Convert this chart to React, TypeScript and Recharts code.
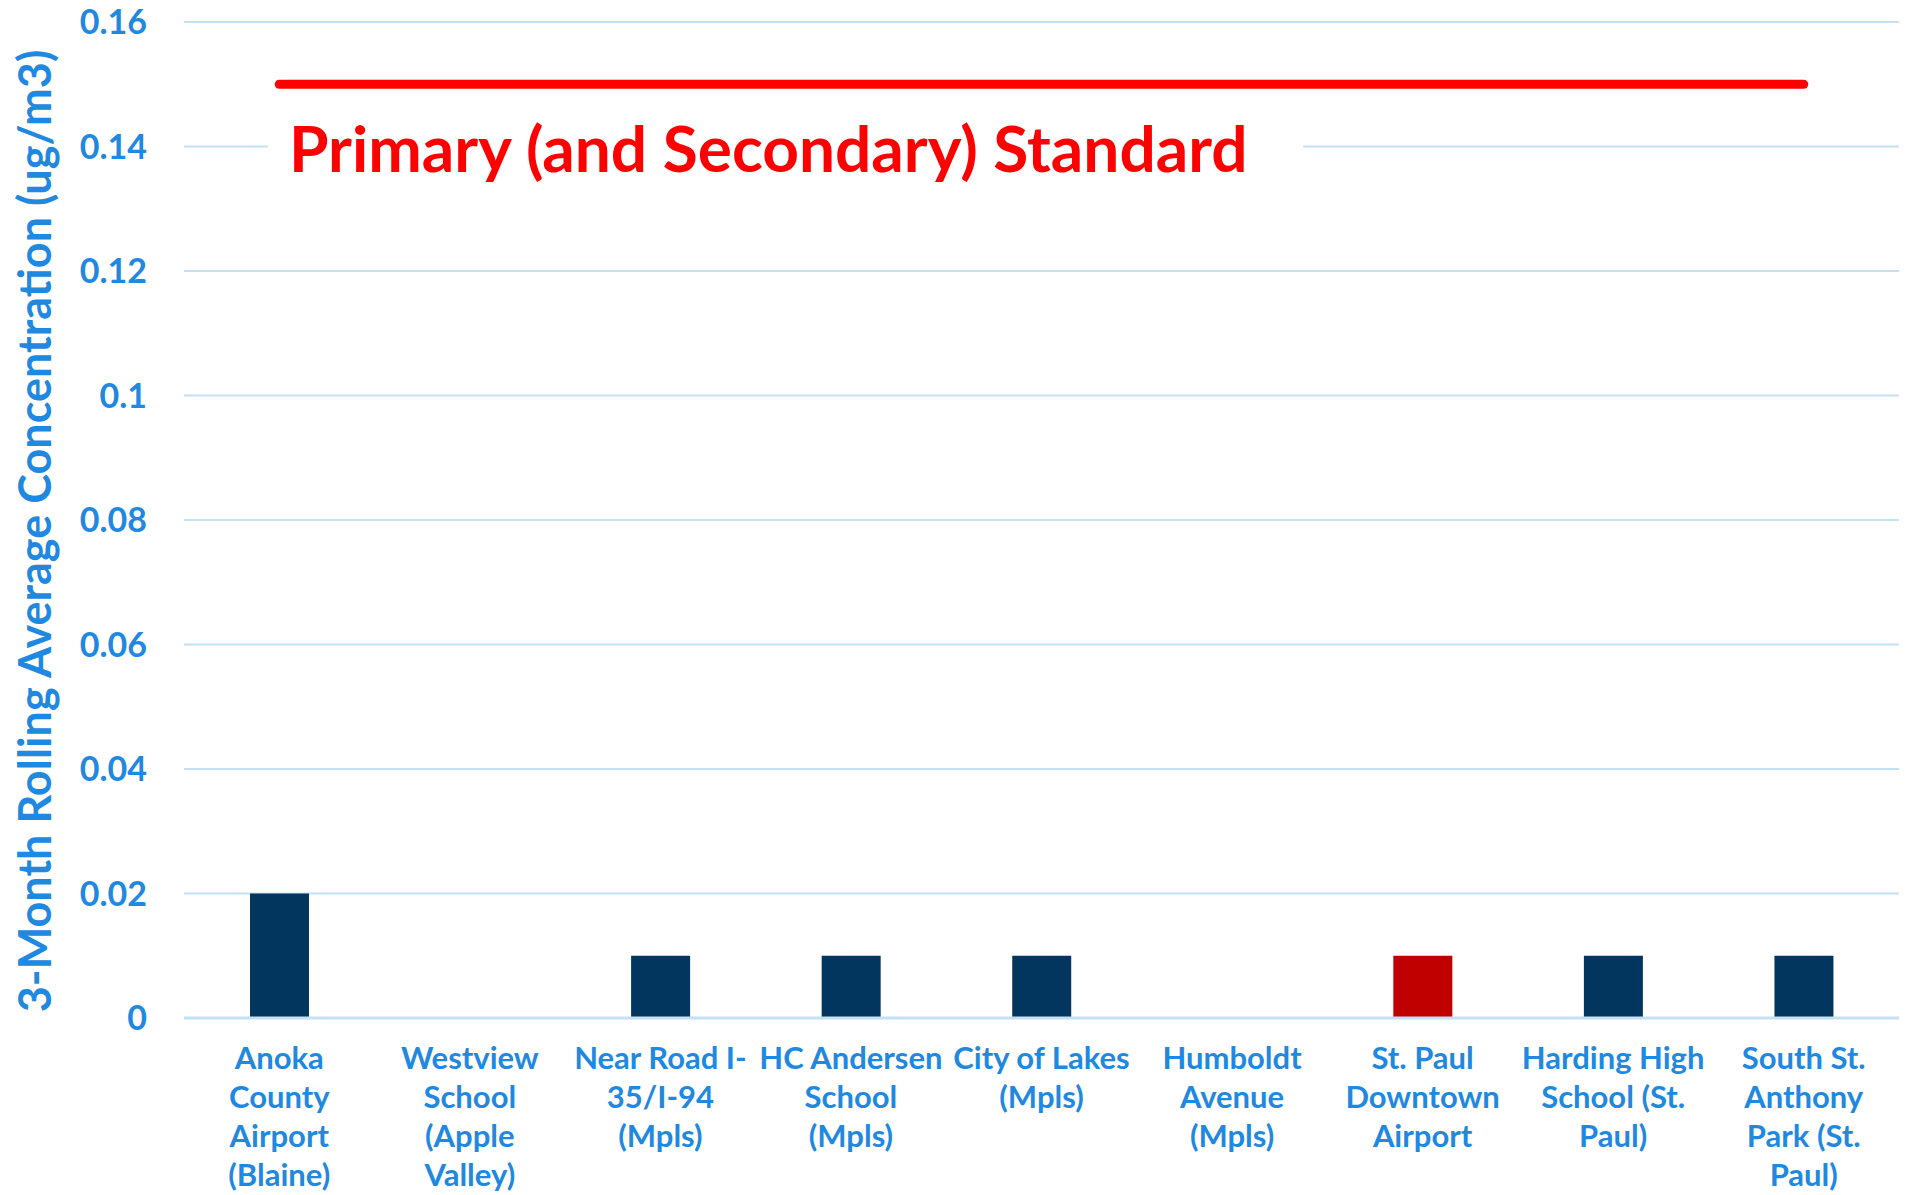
import {
  ComposedChart,
  Bar,
  Line,
  Cell,
  XAxis,
  YAxis,
  CartesianGrid,
  ReferenceLine,
} from "recharts";

const siteLines = [
  ["Anoka", "County", "Airport", "(Blaine)"],
  ["Westview", "School", "(Apple", "Valley)"],
  ["Near Road I-", "35/I-94", "(Mpls)"],
  ["HC Andersen", "School", "(Mpls)"],
  ["City of Lakes", "(Mpls)"],
  ["Humboldt", "Avenue", "(Mpls)"],
  ["St. Paul", "Downtown", "Airport"],
  ["Harding High", "School (St.", "Paul)"],
  ["South St.", "Anthony", "Park (St.", "Paul)"],
];
const sites = siteLines.map((l) => l.join(" "));
const concentration = [0.02, 0, 0.01, 0.01, 0.01, 0, 0.01, 0.01, 0.01];
const highlightSite = "St. Paul Downtown Airport";
const standardValue = 0.15;
const standardLabel = "Primary (and Secondary) Standard";
const yTicks = [0, 0.02, 0.04, 0.06, 0.08, 0.1, 0.12, 0.14, 0.16];
const yLabel = "3-Month Rolling Average Concentration (ug/m3)";

const data = sites.map((site, i) => ({
  site,
  value: concentration[i],
  standard: standardValue,
}));

const BLUE = "#1F88E0";
const GRID = "#C3E0F5";
const NAVY = "#03365F";
const DARK_RED = "#C00000";
const FONT = "Lato, 'Noto Sans', sans-serif";

function SiteTick(props: any) {
  const { x, y, payload } = props;
  const lines = siteLines[payload.index] ?? [payload.value];
  return (
    <text
      x={x}
      y={y + 43}
      textAnchor="middle"
      fill={BLUE}
      fontFamily={FONT}
      fontWeight={700}
      fontSize={31}
    >
      {lines.map((line: string, i: number) => (
        <tspan key={i} x={x} dy={i === 0 ? 0 : 39}>
          {line}
        </tspan>
      ))}
    </text>
  );
}

function YTitle(props: any) {
  const { x, y, height } = props.viewBox;
  const cx = x + 34;
  const cy = y + height / 2 + 11;
  return (
    <text
      x={cx}
      y={cy}
      transform={`rotate(-90 ${cx} ${cy})`}
      textAnchor="middle"
      dominantBaseline="central"
      fill={BLUE}
      fontFamily={FONT}
      fontWeight={700}
      fontSize={45}
    >
      {yLabel}
    </text>
  );
}

function StandardText(props: any) {
  const { x, y } = props.viewBox;
  return (
    <g>
      <rect x={x + 84} y={y - 20} width={1035} height={40} fill="#ffffff" />
      <text
        x={x + 105}
        y={y + 25}
        fill="#FF0000"
        fontFamily={FONT}
        fontWeight={700}
        fontSize={64}
      >
        {standardLabel}
      </text>
    </g>
  );
}

export default function App() {
  return (
    <div
      style={{
        position: "absolute",
        left: 0,
        top: 0,
        width: 1910,
        height: 1195,
        background: "#ffffff",
        overflow: "hidden",
      }}
    >
      <ComposedChart
        width={1910}
        height={1195}
        data={data}
        margin={{ top: 22, right: 11, bottom: 0, left: 0 }}
      >
        <CartesianGrid vertical={false} stroke={GRID} strokeWidth={2} />
        <XAxis
          dataKey="site"
          interval={0}
          height={177}
          tickLine={false}
          axisLine={{ stroke: GRID, strokeWidth: 3 }}
          tick={<SiteTick />}
        />
        <YAxis
          width={184}
          domain={[0, 0.16]}
          ticks={yTicks}
          tickFormatter={(v: number) => String(v)}
          axisLine={false}
          tickLine={false}
          tickMargin={31}
          tick={{ fill: BLUE, fontSize: 34, fontWeight: 700, fontFamily: FONT }}
          label={{ content: <YTitle /> }}
        />
        <ReferenceLine
          y={0.14}
          stroke="none"
          label={{ content: <StandardText /> }}
        />
        <Bar dataKey="value" barSize={59} isAnimationActive={false}>
          {data.map((d) => (
            <Cell key={d.site} fill={d.site === highlightSite ? DARK_RED : NAVY} />
          ))}
        </Bar>
        <Line
          dataKey="standard"
          stroke="#FF0000"
          strokeWidth={9}
          strokeLinecap="round"
          dot={false}
          activeDot={false}
          isAnimationActive={false}
        />
      </ComposedChart>
    </div>
  );
}
